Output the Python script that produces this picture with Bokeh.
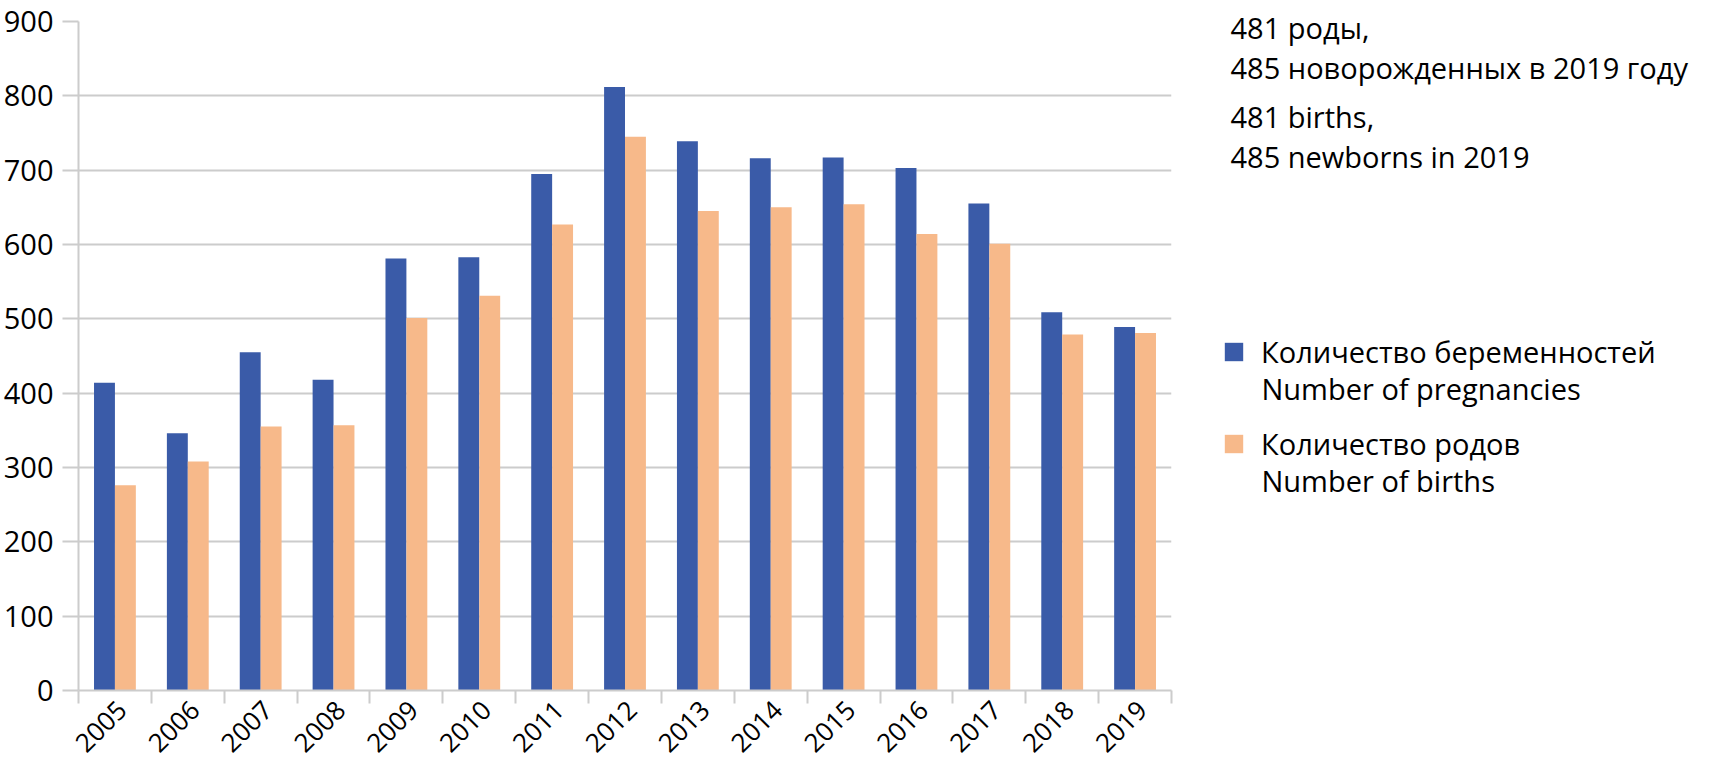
from bokeh.plotting import figure
from bokeh.layouts import row
from bokeh.models import (ColumnDataSource, Range1d, FixedTicker, Legend, LegendItem, Label)
from bokeh.transform import dodge
from bokeh.embed import file_html
from bokeh.resources import INLINE

years = ["2005", "2006", "2007", "2008", "2009", "2010", "2011", "2012",
         "2013", "2014", "2015", "2016", "2017", "2018", "2019"]
pregnancies = [414, 346, 455, 418, 581, 583, 695, 812, 739, 716, 717, 703, 655, 509, 489]
births = [276, 308, 355, 357, 501, 531, 627, 745, 645, 650, 654, 614, 601, 479, 481]
y_ticks = [0, 100, 200, 300, 400, 500, 600, 700, 800, 900]

label_preg = ["Количество беременностей", "Number of pregnancies"]
label_births = ["Количество родов", "Number of births"]
note_lines = ["481 роды,", "485 новорожденных в 2019 году", "481 births,", "485 newborns in 2019"]

BLUE = "#3a5ba8"
ORANGE = "#f7b98a"
GRID = "#cccccc"
FONT = "Open Sans"
FS = "29px"

idx = list(range(1, len(years) + 1))
src = ColumnDataSource(dict(x=idx, preg=pregnancies, births=births))

W_MAIN = 1173
H = 763
p = figure(width=W_MAIN, height=H, x_range=Range1d(0.5, len(years) + 0.5),
           y_range=Range1d(0, 900), output_backend="svg", toolbar_location=None,
           title=None, min_border_left=77, min_border_right=2, min_border_top=21,
           min_border_bottom=72)
p.outline_line_color = None
p.frame_align = False

bw = 0.287
r1 = p.vbar(x=dodge("x", -bw / 2, range=p.x_range), top="preg", width=bw, source=src,
            fill_color=BLUE, line_color=None)
r2 = p.vbar(x=dodge("x", bw / 2, range=p.x_range), top="births", width=bw, source=src,
            fill_color=ORANGE, line_color=None)

# y axis
p.yaxis.ticker = FixedTicker(ticks=y_ticks)
p.yaxis.axis_line_color = GRID
p.yaxis.axis_line_width = 2
p.yaxis.major_tick_line_color = GRID
p.yaxis.major_tick_line_width = 2
p.yaxis.major_tick_out = 16
p.yaxis.major_tick_in = 0
p.yaxis.minor_tick_line_color = None
p.yaxis.major_label_standoff = 9
p.yaxis.major_label_text_font = FONT
p.yaxis.major_label_text_font_size = FS
p.yaxis.major_label_text_color = "black"

# x axis: labels near category centres, tick marks at category boundaries
label_pos = [i + 0.1 for i in idx]
bounds = [i + 0.5 for i in range(0, len(years) + 1)]
p.xaxis.ticker = FixedTicker(ticks=label_pos, minor_ticks=bounds)
p.xaxis.major_label_overrides = {pos: y for pos, y in zip(label_pos, years)}
p.xaxis.major_tick_out = 0
p.xaxis.major_tick_in = 0
p.xaxis.minor_tick_out = 13
p.xaxis.minor_tick_in = 0
p.xaxis.minor_tick_line_color = GRID
p.xaxis.minor_tick_line_width = 2
p.xaxis.axis_line_color = GRID
p.xaxis.axis_line_width = 2
p.xaxis.major_label_orientation = 0.785398
p.xaxis.major_label_standoff = 2
p.xaxis.major_label_text_font = FONT
p.xaxis.major_label_text_font_size = "26px"
p.xaxis.major_label_text_color = "black"

p.xgrid.grid_line_color = None
p.ygrid.grid_line_color = GRID
p.ygrid.grid_line_width = 2

# right-hand panel with notes and legend (data units = pixels, y downwards)
W_SIDE = 1695 - W_MAIN
q = figure(width=W_SIDE, height=H, x_range=Range1d(0, W_SIDE), y_range=Range1d(H, 0),
           output_backend="svg", toolbar_location=None, title=None, min_border=0)
q.outline_line_color = None
q.frame_align = False
q.xaxis.visible = False
q.yaxis.visible = False
q.xgrid.visible = False
q.ygrid.visible = False

# legend swatch renderers (same data, hidden in this panel)
d1 = q.vbar(x="x", top="preg", width=bw, source=src, fill_color=BLUE, line_color=None,
            visible=False)
d2 = q.vbar(x="x", top="births", width=bw, source=src, fill_color=ORANGE, line_color=None,
            visible=False)

def make_legend(label, renderer, loc):
    lg = Legend(items=[LegendItem(label=label, renderers=[renderer])], location=loc,
                border_line_color=None, background_fill_alpha=0, padding=0, margin=0,
                glyph_width=23, glyph_height=23, label_standoff=16, label_height=40,
                inactive_fill_alpha=0, click_policy="none",
                label_text_font=FONT, label_text_font_size=FS, label_text_color="black")
    q.add_layout(lg, "center")

make_legend(label_preg[0], d1, (49, 392))
make_legend(label_births[0], d2, (49, 300))

for txt, y in [(label_preg[1], 388), (label_births[1], 480)]:
    q.add_layout(Label(x=88, y=y, text=txt, text_font=FONT, text_font_size=FS,
                       text_baseline="alphabetic", text_color="black"))

for txt, y in zip(note_lines, [27, 67, 116, 156]):
    q.add_layout(Label(x=57, y=y, text=txt, text_font=FONT, text_font_size=FS,
                       text_baseline="alphabetic", text_color="black"))

layout = row(p, q)
open("out.html", "w").write(file_html(layout, INLINE))
